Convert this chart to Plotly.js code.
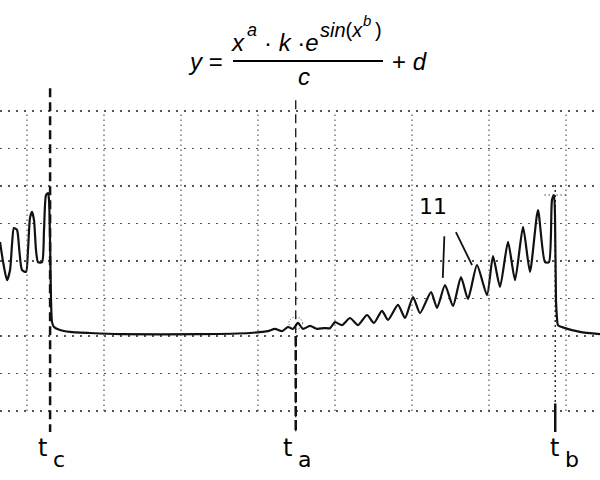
<!DOCTYPE html>
<html><head><meta charset="utf-8">
<script src="https://cdn.plot.ly/plotly-3.0.1.min.js"></script>
<style>html,body{margin:0;padding:0;background:#fff}</style>
</head><body><div id="chart" style="width:600px;height:480px"></div>
<script>
// time in screen divisions, signal in vertical divisions
const time = [-0.35,-0.31,-0.26,-0.22,-0.195,-0.17,-0.13,-0.10,-0.065,-0.013,0.013,0.039,0.065,0.091,0.117,0.143,0.195,0.221,0.247,0.273,0.286,0.299,0.312,0.325,0.351,0.429,0.558,0.818,1.208,2.247,2.896,3.052,3.130,3.221,3.312,3.390,3.455,3.519,3.584,3.675,3.766,3.857,3.935,4.000,4.091,4.195,4.299,4.416,4.506,4.610,4.688,4.818,4.909,5.013,5.104,5.247,5.325,5.429,5.532,5.636,5.727,5.844,5.974,6.052,6.143,6.247,6.338,6.442,6.532,6.636,6.727,6.779,6.818,6.844,6.857,6.870,6.883,6.896,6.987,7.182,7.442];
const signal = [4.51,3.97,3.49,3.76,4.43,4.88,4.83,4.29,3.76,3.71,4.29,5.15,5.31,5.09,4.29,3.97,3.97,4.83,5.76,5.81,5.63,4.56,2.96,2.37,2.24,2.16,2.11,2.08,2.05,2.05,2.08,2.11,2.13,2.19,2.13,2.24,2.19,2.35,2.19,2.27,2.19,2.21,2.21,2.37,2.29,2.48,2.29,2.56,2.35,2.67,2.43,2.83,2.48,3.04,2.61,3.17,2.75,3.36,2.80,3.57,2.99,3.89,3.09,4.13,3.31,4.51,3.49,4.91,3.71,5.36,3.97,3.97,5.63,5.76,5.23,2.96,2.48,2.29,2.21,2.11,2.05];
const gridX = [0,1,2,3,4,5,6,7];
const gridY = [0,1,2,3,4,5,6,7,8];
const markerLabels = ['c','a','b'];
const markerTimes = [0.30, 3.49, 6.86];
const markerTops = [8.61, 8.29, 6.03];
const countLabel = '11';
const countPointerFrom = [[5.42,4.66],[5.57,4.77]];
const countPointerTo = [[5.40,3.55],[5.78,3.89]];

const W = 600, H = 480;
const PX = p => p / W, PY = p => 1 - p / H;

const shapes = [];
gridX.forEach(g => shapes.push({type:'line', xref:'x', yref:'y', x0:g, x1:g, y0:0, y1:8,
  line:{color:'#555', width:1.2, dash:'1.5px,3.5px'}}));
markerTimes.forEach((t, i) => {
  shapes.push({type:'line', xref:'x', yref:'y', x0:t, x1:t, y0:markerTops[i], y1:-0.56,
    line:{color:'#111', width: i === 0 ? 2.5 : 1.3, dash: i === 2 ? '2px,3px' : '9px,5px'}});
});
shapes.push({type:'line', xref:'x', yref:'y', x0:markerTimes[1], x1:markerTimes[1], y0:2.0, y1:-0.56,
  line:{color:'#111', width:2.5, dash:'10px,4px'}});
shapes.push({type:'line', xref:'x', yref:'y', x0:markerTimes[2], x1:markerTimes[2], y0:0.2, y1:-0.56,
  line:{color:'#111', width:2.5, dash:'solid'}});
shapes.push({type:'circle', xref:'x', yref:'y', x0:markerTimes[1]-0.09, x1:markerTimes[1]+0.09, y0:2.18, y1:2.5,
  line:{color:'#444', width:1, dash:'1px,2px'}});
shapes.push({type:'line', xref:'x', yref:'y', x0:markerTimes[2]-0.14, x1:markerTimes[2]+0.14, y0:5.76, y1:5.76,
  line:{color:'#444', width:1.2, dash:'1.5px,2.5px'}});
countPointerFrom.forEach((p, i) => shapes.push({type:'line', xref:'x', yref:'y',
  x0:p[0], y0:p[1], x1:countPointerTo[i][0], y1:countPointerTo[i][1], line:{color:'#111', width:1.8}}));
// fraction bar of the formula
shapes.push({type:'line', xref:'paper', yref:'paper', x0:PX(233), x1:PX(383), y0:PY(61), y1:PY(61),
  line:{color:'#000', width:2}});

const F = 'Liberation Sans, Arial, sans-serif';
const H1 = 'DejaVu Sans, sans-serif';
function ann(text, x, y, size, extra) {
  return Object.assign({text, xref:'paper', yref:'paper', x:PX(x), y:PY(y), showarrow:false,
    xanchor:'left', yanchor:'middle', borderpad:0, font:{family:F, size, color:'#000'}}, extra || {});
}
const annotations = [
  ann('<i>y</i> =', 187, 62, 24),
  ann('<i>x</i>', 230, 42, 24),
  ann('<i>a</i>', 246, 30, 18),
  ann('· <i>k</i> ·<i>e</i>', 263, 42, 24),
  ann('<i>sin</i>(<i>x</i>', 319, 30, 20),
  ann('<i>b</i>', 362, 21, 15),
  ann(')', 374, 30, 20),
  ann('<i>c</i>', 297, 76, 24),
  ann('+ <i>d</i>', 391, 62, 24),
  ann(countLabel, 418, 206, 22, {font:{family:H1, size:22, color:'#000'}}),
];
markerLabels.forEach((lab, i) => {
  const cx = [45, 290, 557][i];
  annotations.push(ann('t', cx - 8, 448, 24, {font:{family:H1, size:24, color:'#000'}}));
  annotations.push(ann(lab, cx + 7, 459, 22, {font:{family:H1, size:22, color:'#000'}}));
});

Plotly.newPlot('chart', [{
  x: time, y: signal, type:'scatter', mode:'lines',
  line:{color:'#111', width:2.2, shape:'spline', smoothing:0.6}, hoverinfo:'skip'
}], {
  width:W, height:H, margin:{l:0,r:0,t:0,b:0},
  paper_bgcolor:'#fff', plot_bgcolor:'#fff', showlegend:false,
  xaxis:{range:[-27/77, 573/77], showgrid:false, zeroline:false, showticklabels:false, ticks:'', showline:false},
  yaxis:{range:[-69/37.5, 411/37.5], tickvals:gridY, showgrid:true, gridcolor:'#555', gridwidth:1.3,
    griddash:'2px,6px', zeroline:false, showticklabels:false, ticks:'', showline:false},
  shapes, annotations
}, {displayModeBar:false, staticPlot:true});
</script></body></html>
